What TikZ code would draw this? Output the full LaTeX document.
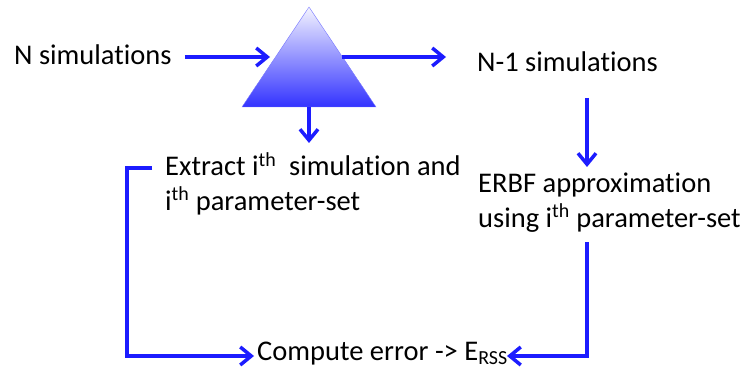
\documentclass[tikz,border=0pt]{standalone}
\usepackage{fontspec}
\setmainfont{Carlito}[Ligatures={NoCommon}]
\usepackage{tikz}
\usetikzlibrary{arrows.meta,calc}
\definecolor{flowblue}{RGB}{28,28,255}
\tikzset{
phase/.style={inner sep=0pt,anchor=base west,align=left,
  font=\fontsize{28.5}{34.5}\selectfont},
flow/.style={line width=3.5pt,draw=flowblue,
  -{Straight Barb[length=11pt,width=18pt,line width=3.5pt]}},
}

\begin{document}
\begin{tikzpicture}[x=1pt,y=-1pt]
\useasboundingbox (0,0) rectangle (741,374);
% splitter triangle
\shade[top color=flowblue!5,bottom color=flowblue!90,draw=flowblue!60,thin]
  (309,7) -- (376,107) -- (242,107) -- cycle;
\coordinate (split-in) at (270,57);
\coordinate (split-out) at (342,57);
\coordinate (split-down) at (309,107);

\node[phase] (all) at (14,65) {N simulations};
\node[phase] (rest) at (477,72) {N-1 simulations};
\node[phase] (extract) at (165,210)
  {Extract i\textsuperscript{th}\ \ simulation and\\i\textsuperscript{th} parameter-set};
\node[phase] (erbf) at (478,227)
  {ERBF approximation\\using i\textsuperscript{th} parameter-set};
\node[phase] (error) at (257,360) {Compute error -> E\textsubscript{RSS}};

\coordinate (extract-top) at (309,143);
\coordinate (extract-tap) at (152,168);
\coordinate (rest-tap) at (587,98);
\coordinate (erbf-top) at (587,167);
\coordinate (erbf-tap) at (587,242);
\coordinate (error-in-l) at (254,356);
\coordinate (error-in-r) at (507,356);

\draw[flow] (all.east |- split-in) ++(13,0) -- (split-in);
\draw[flow] (split-out) -- (446,57);
\draw[flow] (split-down) -- (extract-top);
\draw[flow] (rest-tap) -- (erbf-top);
\draw[flow] (extract-tap) -| (127,356) -- (error-in-l);
\draw[flow] (erbf-tap) |- (error-in-r);
\end{tikzpicture}
\end{document}
